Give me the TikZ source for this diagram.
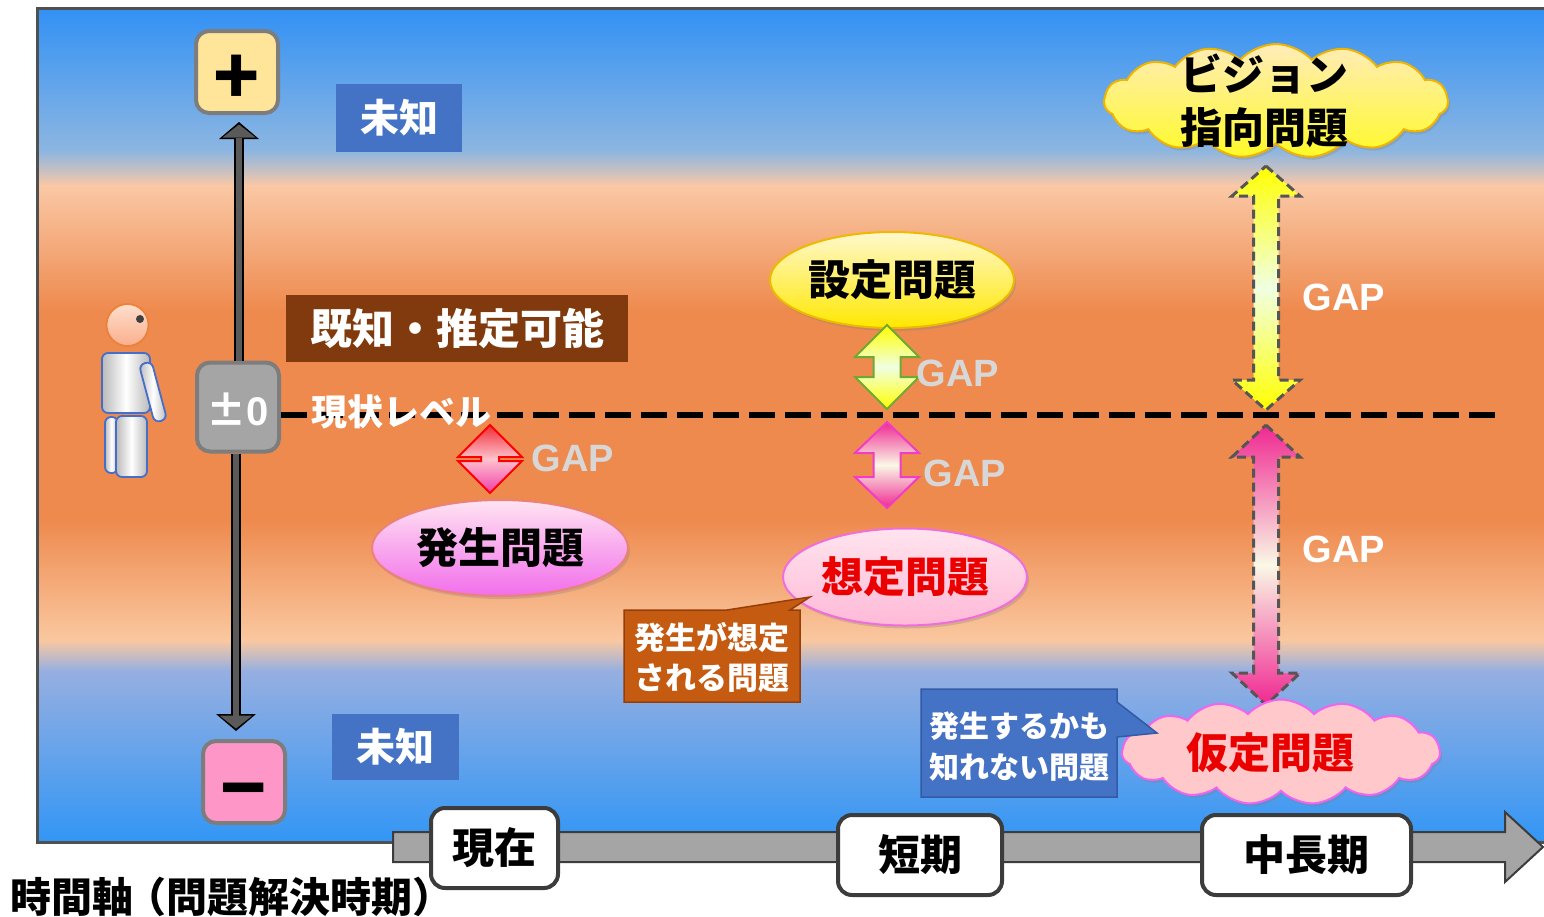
\documentclass[tikz,border=0pt]{standalone}
\usepackage{fontspec}
\setmainfont{Noto Sans CJK JP}
\newfontfamily\latinbold{Liberation Sans}
\usetikzlibrary{shapes.geometric,shapes.symbols,arrows.meta,shadows,calc}

% background stops
\definecolor{bgA}{RGB}{50,145,245}
\definecolor{bgB}{RGB}{140,182,225}
\definecolor{bgC}{RGB}{215,195,185}
\definecolor{bgD}{RGB}{250,200,165}
\definecolor{bgE}{RGB}{238,138,78}
\definecolor{bgF}{RGB}{250,200,160}
\definecolor{bgG}{RGB}{150,175,225}
\definecolor{bgH}{RGB}{50,150,245}
\definecolor{framegray}{RGB}{80,80,80}
% boxes and labels
\definecolor{plusfill}{RGB}{255,229,153}
\definecolor{minusfill}{RGB}{255,150,200}
\definecolor{zerofill}{RGB}{165,165,165}
\definecolor{boxedge}{RGB}{125,125,125}
\definecolor{arrowgray}{RGB}{90,90,90}
\definecolor{labelblue}{RGB}{68,114,196}
\definecolor{labelblueD}{RGB}{50,90,165}
\definecolor{labelbrown}{RGB}{128,58,14}
\definecolor{notebrown}{RGB}{197,90,17}
\definecolor{notebrownD}{RGB}{150,62,10}
\definecolor{gapgray}{RGB}{215,215,215}
% person
\definecolor{limbblue}{RGB}{70,110,200}
\definecolor{limbgray}{RGB}{185,185,185}
\definecolor{headA}{RGB}{255,222,205}
\definecolor{headB}{RGB}{250,175,140}
\definecolor{headedge}{RGB}{235,130,60}
% problem shapes
\definecolor{yelA}{RGB}{255,248,205}
\definecolor{yelB}{RGB}{255,232,0}
\definecolor{yelEdge}{RGB}{238,185,0}
\definecolor{pinkA}{RGB}{255,228,242}
\definecolor{pinkB}{RGB}{242,110,235}
\definecolor{pinkEdge}{RGB}{235,130,120}
\definecolor{rosA}{RGB}{255,228,238}
\definecolor{rosB}{RGB}{255,185,215}
\definecolor{rosEdge}{RGB}{240,110,220}
\definecolor{cloudYA}{RGB}{255,236,185}
\definecolor{cloudYB}{RGB}{255,250,40}
\definecolor{cloudYEdge}{RGB}{240,180,0}
\definecolor{cloudP}{RGB}{255,200,202}
\definecolor{cloudPEdge}{RGB}{240,100,240}
\definecolor{probred}{RGB}{235,0,0}
% gap arrows
\definecolor{gapRedA}{RGB}{240,45,55}
\definecolor{gapRedM}{RGB}{255,195,205}
\definecolor{gapRedB}{RGB}{240,60,170}
\definecolor{gapYel}{RGB}{255,255,0}
\definecolor{gapYelM}{RGB}{240,255,225}
\definecolor{gapGreen}{RGB}{110,170,50}
\definecolor{gapPink}{RGB}{240,40,145}
\definecolor{gapPinkM}{RGB}{250,248,230}
\definecolor{gapPinkEdge}{RGB}{240,60,200}
\definecolor{gapDash}{RGB}{85,85,85}
\definecolor{axisfill}{RGB}{165,165,165}
\definecolor{axisedge}{RGB}{60,60,60}

% up-down arrow outline: #1 style, #2 centre x, #3 top y, #4 bottom y,
% #5 head half width, #6 shaft half width, #7 head length
\newcommand\gaparrow[7]{%
  \path[#1] (#2,#3) -- ({#2+#5},{#3+#7}) -- ({#2+#6},{#3+#7})
    -- ({#2+#6},{#4-#7}) -- ({#2+#5},{#4-#7}) -- (#2,#4)
    -- ({#2-#5},{#4-#7}) -- ({#2-#6},{#4-#7}) -- ({#2-#6},{#3+#7})
    -- ({#2-#5},{#3+#7}) -- cycle;}

\tikzset{
  fs/.style={font=\bfseries\fontsize{#1pt}{#1pt}\selectfont},
  pmbox/.style={draw=boxedge, line width=4pt, rounded corners=13pt,
    minimum width=82pt, minimum height=82pt, inner sep=0pt},
  flatlabel/.style={text=white, inner sep=0pt, fs=39},
  limb/.style={draw=limbblue, line width=1.8pt, rounded corners=6pt,
    left color=limbgray, right color=limbgray, middle color=white},
  axisline/.style={line width=10pt, black,
    -{Triangle[width=40pt,length=17pt,line width=0pt]}},
  axislinein/.style={line width=6pt, arrowgray, shorten >=2.5pt,
    -{Triangle[width=33pt,length=13pt,line width=0pt]}},
  problem/.style={ellipse, line width=2pt, inner sep=0pt, fs=42,
    drop shadow={opacity=0.3, shadow xshift=2pt, shadow yshift=-3pt}},
  puffy/.style={cloud, cloud puffs=15, cloud puff arc=95, aspect=3.2,
    line width=2pt, inner sep=0pt,
    drop shadow={opacity=0.3, shadow xshift=2pt, shadow yshift=-3pt}},
  gaptext/.style={font=\latinbold\bfseries\fontsize{38pt}{38pt}\selectfont, inner sep=0pt},
  gapsmall/.style={line width=2pt},
  gapbig/.style={draw=gapDash, line width=3pt, dash pattern=on 9pt off 5pt},
  period/.style={draw=axisedge, fill=white, line width=4pt, rounded corners=14pt,
    minimum height=80pt, inner sep=0pt, fs=42},
}

\begin{document}
\begin{tikzpicture}[x=1pt,y=-1pt]
\useasboundingbox (0,0) rectangle (1544,916);

% layered sky / level background
\shade[top color=bgA, bottom color=bgB] (37,8) rectangle (1544,151);
\shade[top color=bgB, bottom color=bgC] (37,150) rectangle (1544,176);
\shade[top color=bgC, bottom color=bgD] (37,175) rectangle (1544,186);
\shade[top color=bgD, bottom color=bgE] (37,185) rectangle (1544,311);
\fill[bgE] (37,310) rectangle (1544,521);
\shade[top color=bgE, bottom color=bgF] (37,520) rectangle (1544,641);
\shade[top color=bgF, bottom color=bgG] (37,640) rectangle (1544,671);
\shade[top color=bgG, bottom color=bgH] (37,670) rectangle (1544,842);
\draw[framegray, line width=3pt] (1544,8) -- (37,8) -- (37,842) -- (1544,842);

% value scale
\node[pmbox, fill=plusfill] (plus) at (237,72) {};
\node[fs=76, inner sep=0pt] (plusSign) at ($(plus.center)+(0,8)$) {+};
\node[pmbox, fill=zerofill, minimum height=89pt] (zero) at (238,407) {};
\node[text=white, inner sep=0pt, fs=40] (zeroSign) at ($(zero.center)+(0,2)$) {±{\latinbold 0}};
\node[pmbox, fill=minusfill] (minus) at (244,782) {};
\node[fs=76, inner sep=0pt] (minusSign) at ($(minus.center)+(0,18)$) {−};
\coordinate (upend) at (239,122);
\coordinate (downend) at (236,731);
\draw[axisline] (zero.north -| upend) -- (upend);
\draw[axislinein] (zero.north -| upend) -- (upend);
\draw[axisline] (zero.south -| downend) -- (downend);
\draw[axislinein] (zero.south -| downend) -- (downend);

% person
\draw[limb] (105,417) rectangle (118,473);
\draw[limb] (116,416) rectangle (147,477);
\draw[limb] (102,353) rectangle (150,413);
\draw[limb, rotate around={15:(153,392)}] (146.5,362) rectangle (159.5,422);
\draw[headedge, line width=1.8pt, top color=headA, bottom color=headB] (127.5,325) circle[radius=21pt];
\fill[black!75] (140,319) circle[radius=4pt];

% level labels
\node[flatlabel, fill=labelblue, minimum width=126pt, minimum height=68pt] (unknownTop) at (399,118) {未知};
\node[flatlabel, fill=labelblue, minimum width=127pt, minimum height=66pt] (unknownBottom) at (395.5,747) {未知};
\node[flatlabel, fill=labelbrown, minimum width=342pt, minimum height=67pt, fs=42] (known) at (457,328.5) {既知・推定可能};

% current level
\coordinate (levelEnd) at (1502,415);
\draw[black, line width=5.5pt, dash pattern=on 26pt off 10pt] (zero.east |- levelEnd) -- (levelEnd);
\node[text=white, fs=36, inner sep=0pt] (level) at (401,412) {現状レベル};

% problems
\node[problem, draw=yelEdge, top color=yelA, bottom color=yelB,
  minimum width=244pt, minimum height=96pt] (settei) at (892,280) {設定問題};
\node[problem, draw=pinkEdge, top color=pinkA, bottom color=pinkB,
  minimum width=256pt, minimum height=96pt] (hassei) at (500,548) {発生問題};
\node[problem, draw=rosEdge, top color=rosA, bottom color=rosB, text=probred,
  minimum width=244pt, minimum height=97pt] (soutei) at (905,577) {想定問題};

% gaps
\gaparrow{gapsmall, draw=red, top color=gapRedA, bottom color=gapRedB, middle color=gapRedM}{490}{425}{493}{32}{9}{32}
\gaparrow{gapsmall, draw=gapGreen, top color=gapYel, bottom color=gapYel, middle color=gapYelM}{887}{325}{409}{32}{13.5}{32}
\gaparrow{gapsmall, draw=gapPinkEdge, top color=gapPink, bottom color=gapPink, middle color=gapPinkM}{887}{422}{508}{32}{13.5}{31}
\gaparrow{gapbig, top color=gapYel, bottom color=gapYel, middle color=gapYelM}{1266}{166}{410}{34}{12.5}{30}
\gaparrow{gapbig, top color=gapPink, bottom color=gapPink, middle color=gapPinkM}{1266}{425}{705}{34}{12.5}{32}
\node[gaptext, text=gapgray] (gapHassei) at (573,458) {GAP};
\node[gaptext, text=gapgray] (gapSettei) at (958,373) {GAP};
\node[gaptext, text=gapgray] (gapSoutei) at (965,473) {GAP};
\node[gaptext, text=white] (gapVision) at (1344,297) {GAP};
\node[gaptext, text=white] (gapKatei) at (1344,549) {GAP};

% clouds
\node[puffy, draw=cloudYEdge, top color=cloudYA, bottom color=cloudYB,
  minimum width=344pt, minimum height=114pt] (vision) at (1276,101) {};
\node[align=center, inner sep=0pt, font=\bfseries\fontsize{42pt}{53pt}\selectfont] (visionText) at (1264,101) {ビジョン\\指向問題};
\node[puffy, draw=cloudPEdge, fill=cloudP,
  minimum width=318pt, minimum height=105pt] (katei) at (1281,752) {};
\node[fs=42, text=probred, inner sep=0pt] (kateiText) at (1270,753) {仮定問題};

% notes
\path[fill=notebrown, draw=notebrownD, line width=1.5pt]
  (624,610) -- (727,610) -- (810,597) -- (790,610) -- (800,610)
  -- (800,702) -- (624,702) -- cycle;
\node[text=white, align=center, inner sep=0pt, font=\bfseries\fontsize{31pt}{40pt}\selectfont] (noteSoutei) at (712,657) {発生が想定\\される問題};
\path[fill=labelblue, draw=labelblueD, line width=1.5pt]
  (921,689) -- (1117,689) -- (1117,702) -- (1157,733) -- (1117,737)
  -- (1117,797) -- (921,797) -- cycle;
\node[text=white, align=center, inner sep=0pt, font=\bfseries\fontsize{30pt}{41pt}\selectfont] (noteKatei) at (1019,747) {発生するかも\\知れない問題};

% time axis
\path[fill=axisfill, draw=axisedge, line width=2pt]
  (393,832) -- (1505,832) -- (1505,812) -- (1543,847) -- (1505,882)
  -- (1505,862) -- (393,862) -- cycle;
\node[period, minimum width=127pt] (now) at (494.5,848) {現在};
\node[period, minimum width=164pt] (short) at (920,855) {短期};
\node[period, minimum width=209pt] (mid) at (1306.5,855) {中長期};
\node[anchor=west, inner sep=0pt, fs=41] (axisTitle) at (10,897) {時間軸\kern-0.2em（問題解決時期）};
\end{tikzpicture}
\end{document}
